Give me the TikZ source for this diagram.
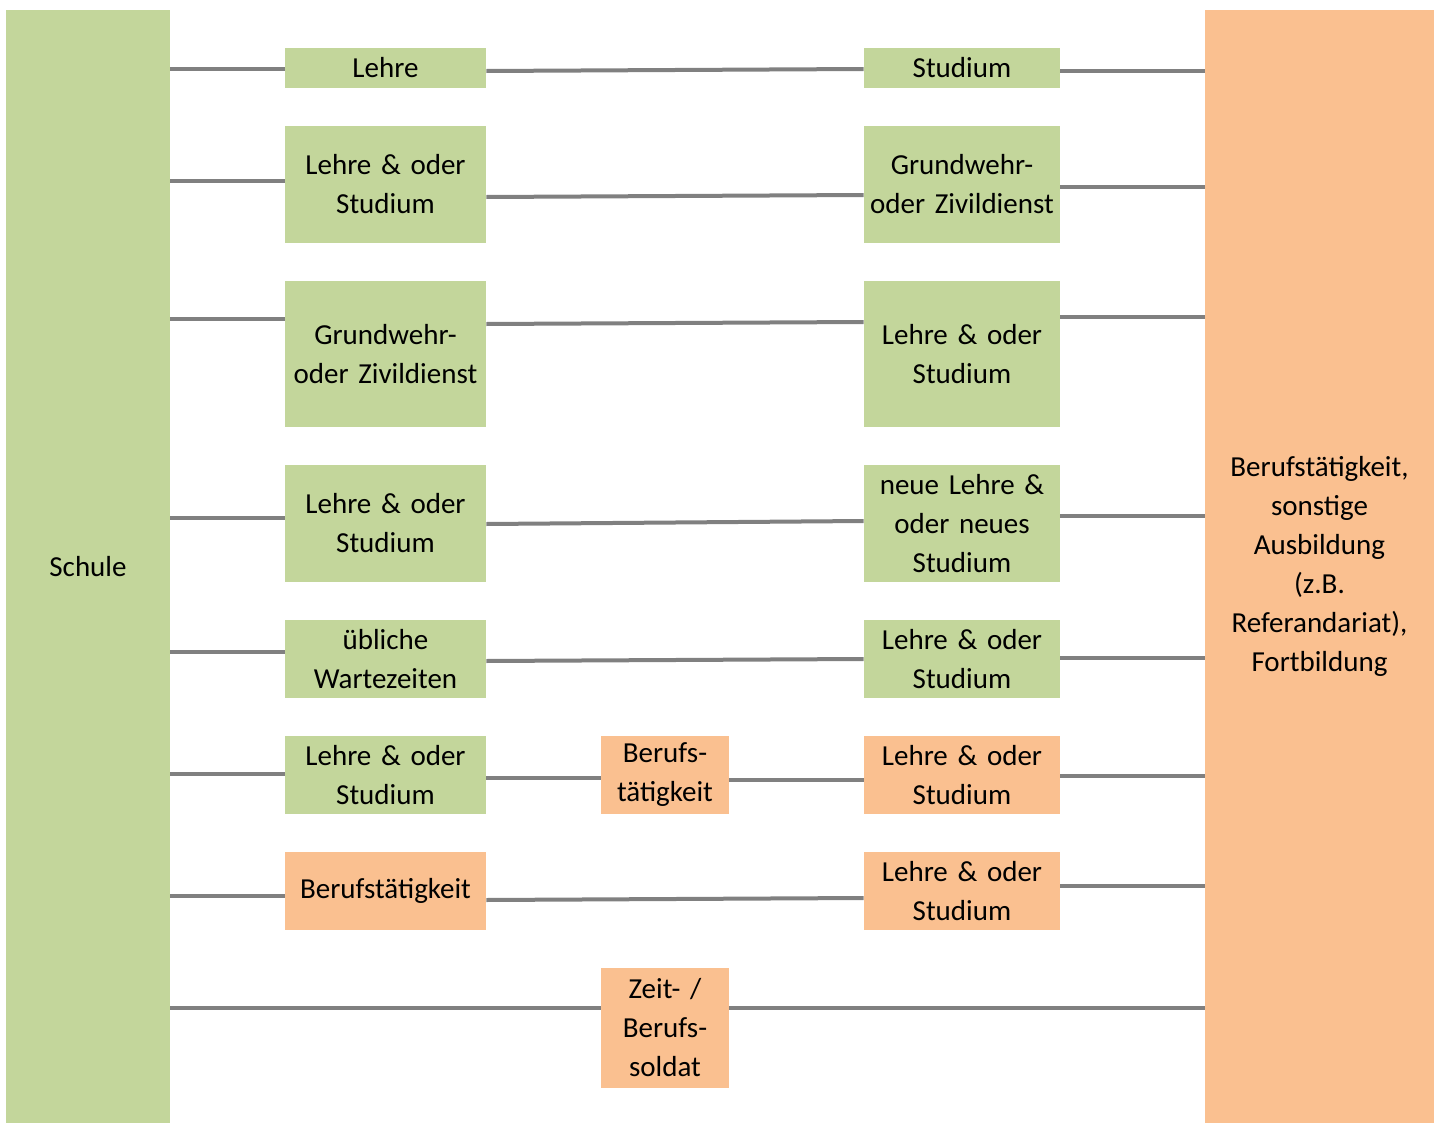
\documentclass[tikz,border=0pt]{standalone}
\usepackage{fontspec}
\setmainfont{Carlito}
\definecolor{gruen}{HTML}{C3D69B}
\definecolor{lachs}{HTML}{FAC090}
\tikzset{
	feld/.style={inner sep=0pt, align=center, font=\fontsize{14.5pt}{19.5pt}\selectfont},
	gbox/.style={feld, fill=gruen},
	obox/.style={feld, fill=lachs},
	lcol/.style={text width=100.5pt},
	mcol/.style={text width=64pt},
	rcol/.style={text width=98pt},
	link/.style={draw=gray, line width=2pt}
}
\begin{document}
\begin{tikzpicture}[x=0.5pt, y=-0.5pt]
	\useasboundingbox (0, 0) rectangle (1442, 1124);

	\node[gbox, text width=82pt, minimum height=556.5pt] (schule) at (88, 566.5) {Schule};
	\node[obox, text width=114.5pt, minimum height=556.5pt] (beruf) at (1319.5, 566.5)
		{Berufstätigkeit,\\ sonstige\\ Ausbildung\\ (z.B.\\ Referandariat),\\ Fortbildung};

	% linke Spalte
	\node[gbox, lcol, minimum height=20pt] (l1) at (385.5, 68) {Lehre};
	\node[gbox, lcol, minimum height=58.5pt] (l2) at (385.5, 184.5) {Lehre \& oder\\ Studium};
	\node[gbox, lcol, minimum height=73pt] (l3) at (385.5, 354) {Grundwehr-\\ oder Zivildienst};
	\node[gbox, lcol, minimum height=58.5pt] (l4) at (385.5, 523.5) {Lehre \& oder\\ Studium};
	\node[gbox, lcol, minimum height=39pt] (l5) at (385.5, 659) {übliche\\ Wartezeiten};
	\node[gbox, lcol, minimum height=39pt] (l6) at (385.5, 775) {Lehre \& oder\\ Studium};
	\node[obox, lcol, minimum height=39pt] (l7) at (385.5, 891) {Berufstätigkeit};

	% mittlere Spalte
	\node[obox, mcol, minimum height=39pt] (m6) at (665, 775) {Berufs-\\ tätigkeit};
	\node[obox, mcol, minimum height=60pt] (m8) at (665, 1028) {Zeit- /\\ Berufs-\\ soldat};

	% rechte Spalte
	\node[gbox, rcol, minimum height=20pt] (r1) at (962, 68) {Studium};
	\node[gbox, rcol, minimum height=58.5pt] (r2) at (962, 184.5) {Grundwehr-\\ oder Zivildienst};
	\node[gbox, rcol, minimum height=73pt] (r3) at (962, 354) {Lehre \& oder\\ Studium};
	\node[gbox, rcol, minimum height=58.5pt] (r4) at (962, 523.5) {neue Lehre \&\\ oder neues\\ Studium};
	\node[gbox, rcol, minimum height=39pt] (r5) at (962, 659) {Lehre \& oder\\ Studium};
	\node[obox, rcol, minimum height=39pt] (r6) at (962, 775) {Lehre \& oder\\ Studium};
	\node[obox, rcol, minimum height=39pt] (r7) at (962, 891) {Lehre \& oder\\ Studium};

	% Verbindungen
	\draw[link] (schule.east |- 0, 69) -- (l1.west |- 0, 69);
	\draw[link] (l1.east |- 0, 71) -- (r1.west |- 0, 69);
	\draw[link] (r1.east |- 0, 71) -- (beruf.west |- 0, 71);

	\draw[link] (schule.east |- 0, 181) -- (l2.west |- 0, 181);
	\draw[link] (l2.east |- 0, 197) -- (r2.west |- 0, 195);
	\draw[link] (r2.east |- 0, 187) -- (beruf.west |- 0, 187);

	\draw[link] (schule.east |- 0, 319) -- (l3.west |- 0, 319);
	\draw[link] (l3.east |- 0, 324) -- (r3.west |- 0, 322);
	\draw[link] (r3.east |- 0, 317) -- (beruf.west |- 0, 317);

	\draw[link] (schule.east |- 0, 518) -- (l4.west |- 0, 518);
	\draw[link] (l4.east |- 0, 524) -- (r4.west |- 0, 521);
	\draw[link] (r4.east |- 0, 516) -- (beruf.west |- 0, 516);

	\draw[link] (schule.east |- 0, 652) -- (l5.west |- 0, 652);
	\draw[link] (l5.east |- 0, 661) -- (r5.west |- 0, 659);
	\draw[link] (r5.east |- 0, 658) -- (beruf.west |- 0, 658);

	\draw[link] (schule.east |- 0, 774) -- (l6.west |- 0, 774);
	\draw[link] (l6.east |- 0, 778) -- (m6.west |- 0, 778);
	\draw[link] (m6.east |- 0, 780) -- (r6.west |- 0, 780);
	\draw[link] (r6.east |- 0, 776) -- (beruf.west |- 0, 776);

	\draw[link] (schule.east |- 0, 896) -- (l7.west |- 0, 896);
	\draw[link] (l7.east |- 0, 900) -- (r7.west |- 0, 898);
	\draw[link] (r7.east |- 0, 886) -- (beruf.west |- 0, 886);

	\draw[link] (schule.east |- 0, 1008) -- (m8.west |- 0, 1008);
	\draw[link] (m8.east |- 0, 1008) -- (beruf.west |- 0, 1008);
\end{tikzpicture}
\end{document}
